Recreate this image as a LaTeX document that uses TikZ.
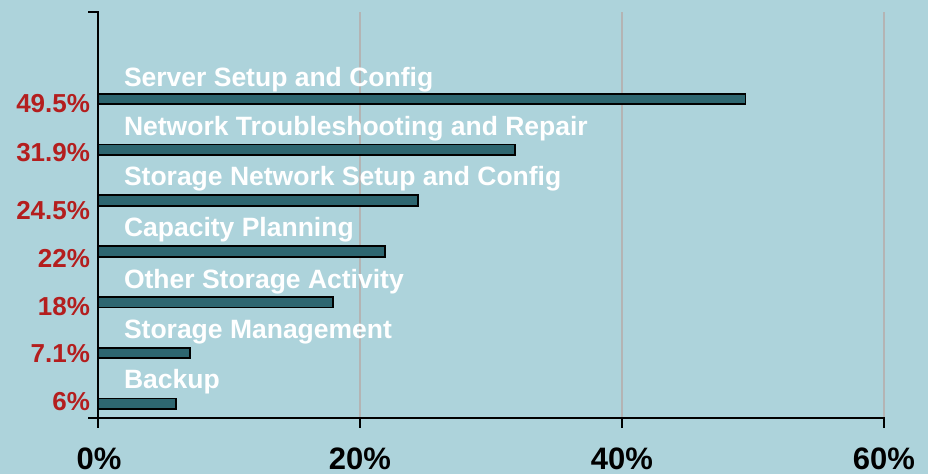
\documentclass[tikz,border=0pt]{standalone}
\usepackage{fontspec}
\setmainfont{Liberation Sans}
\definecolor{chartbg}{HTML}{ADD3DB}
\definecolor{barfill}{HTML}{2E6670}
\definecolor{pctred}{HTML}{B41E1E}
\definecolor{gridgray}{HTML}{B4B4B4}
\tikzset{
  every node/.style={
    inner sep=0pt,
    outer sep=0pt
  },
  bar/.style={draw=black, fill=barfill, line width=1.8pt},
  catlabel/.style={anchor=base west, text=white,
    font=\bfseries\fontsize{26.5}{30}\selectfont},
  pctlabel/.style={anchor=base east, text=pctred,
    font=\bfseries\fontsize{26}{30}\selectfont},
  ticklabel/.style={anchor=base, font=\bfseries\fontsize{31}{36}\selectfont},
  gridline/.style={gridgray, line width=2.5pt},
  axisline/.style={black, line width=2pt}
}

\begin{document}
\begin{tikzpicture}[x=1pt, y=-1pt]
    \fill[chartbg] (0,0) rectangle (928,474);
    \useasboundingbox (0,0) rectangle (928,474);
    % grid
    \foreach \gx in {360,622,884}
      \draw[gridline] (\gx,12) -- (\gx,418);
    % bars, 13.1 units per percent
    \foreach \v [count=\i from 0] in {49.5,31.9,24.5,22,18,7.1,6}
      \draw[bar] (98,{99+50.8*\i-5.3}) rectangle ({97.1+13.1*\v},{99+50.8*\i+5.3});
    % axes
    \draw[axisline] (88,12) -- (98,12) -- (98,428);
    \draw[axisline] (88,418) -- (884,418) -- (884,428);
    \foreach \gx in {360,622}
      \draw[axisline] (\gx,418) -- (\gx,428);
    % categories
    \node[catlabel] (server)   at (124,86)    {Server Setup and Config};
    \node[catlabel] (network)  at (124,135)   {Network Troubleshooting and Repair};
    \node[catlabel] (storenet) at (124,185.5) {Storage Network Setup and Config};
    \node[catlabel] (capacity) at (124,236.5) {Capacity Planning};
    \node[catlabel] (other)    at (124,288)   {Other Storage Activity};
    \node[catlabel] (storemgt) at (124,338)   {Storage Management};
    \node[catlabel] (backup)   at (124,388.5) {Backup};
    % percentages
    \node[pctlabel] (pserver)   at (90,112.5) {49.5\%};
    \node[pctlabel] (pnetwork)  at (90,161)   {31.9\%};
    \node[pctlabel] (pstorenet) at (90,219.3) {24.5\%};
    \node[pctlabel] (pcapacity) at (90,267.7) {22\%};
    \node[pctlabel] (pother)    at (90,315.7) {18\%};
    \node[pctlabel] (pstoremgt) at (90,362.7) {7.1\%};
    \node[pctlabel] (pbackup)   at (90,410)   {6\%};
    % x ticks
    \node[ticklabel] (tzero)   at (99,469)  {0\%};
    \node[ticklabel] (ttwenty) at (360,469) {20\%};
    \node[ticklabel] (tforty)  at (622,469) {40\%};
    \node[ticklabel] (tsixty)  at (884,469) {60\%};
\end{tikzpicture}
\end{document}
